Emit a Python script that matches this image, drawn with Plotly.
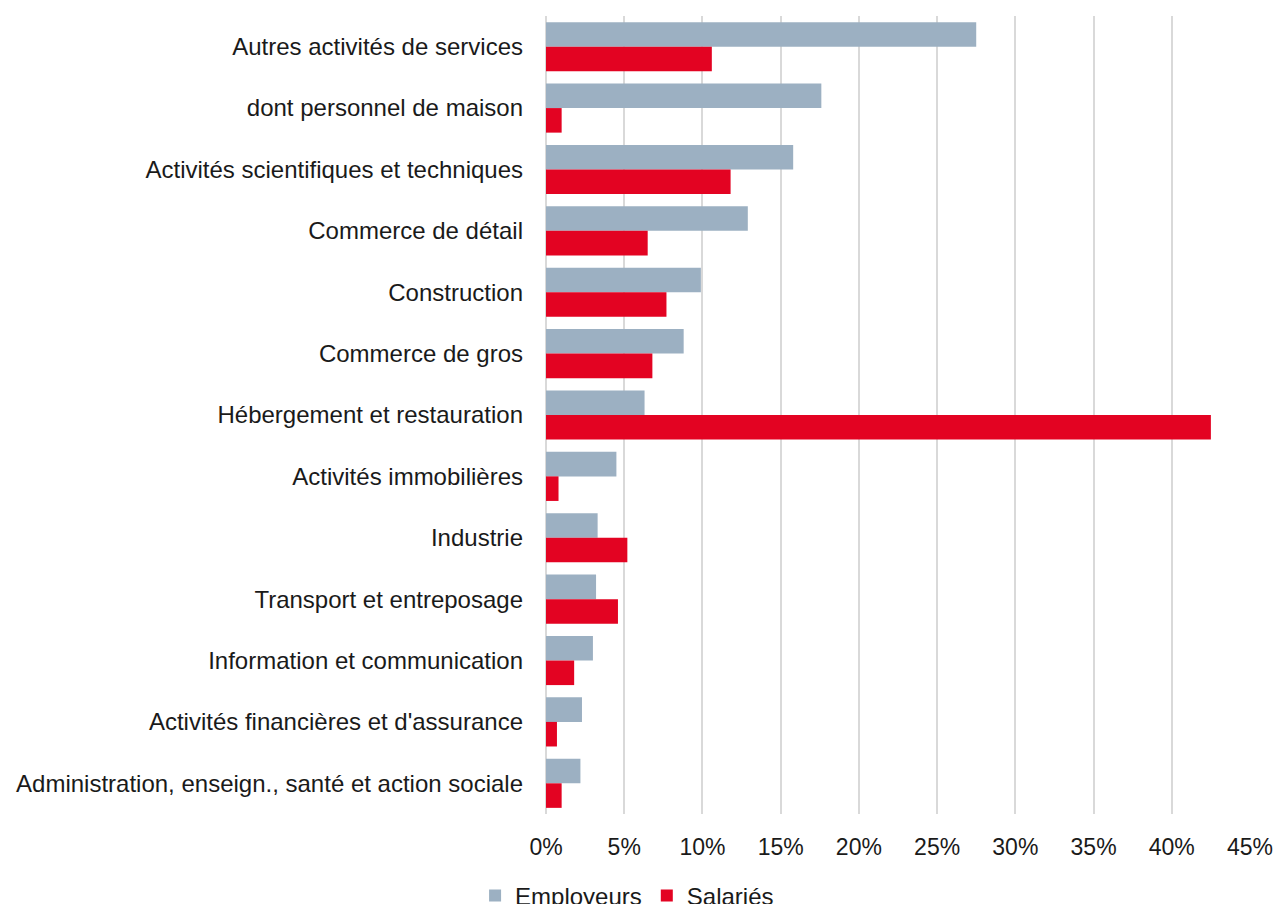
import plotly.graph_objects as go

categories = [
    "Autres activités de services",
    "dont personnel de maison",
    "Activités scientifiques et techniques",
    "Commerce de détail",
    "Construction",
    "Commerce de gros",
    "Hébergement et restauration",
    "Activités immobilières",
    "Industrie",
    "Transport et entreposage",
    "Information et communication",
    "Activités financières et d'assurance",
    "Administration, enseign., santé et action sociale",
]
employeurs = [27.5, 17.6, 15.8, 12.9, 9.9, 8.8, 6.3, 4.5, 3.3, 3.2, 3.0, 2.3, 2.2]
salaries = [10.6, 1.0, 11.8, 6.5, 7.7, 6.8, 42.5, 0.8, 5.2, 4.6, 1.8, 0.7, 1.0]
x_ticks = [0, 5, 10, 15, 20, 25, 30, 35, 40, 45]

FONT = "Liberation Sans, Arial, Helvetica, sans-serif"

fig = go.Figure()
fig.add_trace(go.Bar(
    y=categories, x=employeurs, name="Employeurs", orientation="h",
    marker=dict(color="#9CB0C2", line=dict(width=0)),
))
fig.add_trace(go.Bar(
    y=categories, x=salaries, name="Salariés", orientation="h",
    marker=dict(color="#E30322", line=dict(width=0)),
))

fig.update_layout(
    width=1285, height=904,
    margin=dict(l=546, r=27, t=16, b=90),
    paper_bgcolor="white", plot_bgcolor="white",
    barmode="group", bargap=0.2, bargroupgap=0,
    font=dict(family=FONT, size=23, color="#1a1a1a"),
    showlegend=True,
    legend=dict(
        orientation="h", xref="container", yref="container",
        x=0.488, y=0.009, xanchor="center", yanchor="middle",
        font=dict(size=24, color="#1a1a1a"), traceorder="normal",
        itemwidth=30, tracegroupgap=0,
    ),
)
fig.update_xaxes(
    range=[0, 45], tickvals=x_ticks, ticktext=[f"{v}%" for v in x_ticks],
    showgrid=True, gridcolor="#d9d9d9", gridwidth=2,
    zeroline=True, zerolinecolor="#d9d9d9", zerolinewidth=2,
    showline=False, ticks="", ticklabelstandoff=17,
    tickfont=dict(size=23),
)
fig.update_yaxes(
    autorange="reversed", showgrid=False, showline=False, ticks="",
    ticklabelstandoff=22, tickfont=dict(size=24),
)

fig.write_html("out.html")
